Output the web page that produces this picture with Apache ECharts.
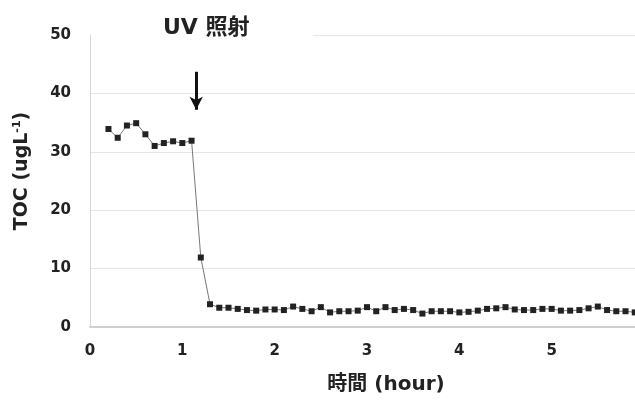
<!DOCTYPE html>
<html>
<head>
<meta charset="utf-8">
<script src="https://cdn.jsdelivr.net/npm/echarts@6/dist/echarts.min.js"></script>
<style>
html,body{margin:0;padding:0;background:#fff;}
#c{width:635px;height:407px;}
</style>
</head>
<body>
<div id="c"></div>
<script>
const hours = [0.2,0.3,0.4,0.5,0.6,0.7,0.8,0.9,1.0,1.1,1.2,1.3,1.4,1.5,1.6,1.7,1.8,1.9,2.0,2.1,2.2,2.3,2.4,2.5,2.6,2.7,2.8,2.9,3.0,3.1,3.2,3.3,3.4,3.5,3.6,3.7,3.8,3.9,4.0,4.1,4.2,4.3,4.4,4.5,4.6,4.7,4.8,4.9,5.0,5.1,5.2,5.3,5.4,5.5,5.6,5.7,5.8,5.9];
const toc = [33.9,32.4,34.5,34.9,33.0,31.0,31.5,31.8,31.5,31.9,11.9,3.9,3.3,3.3,3.1,2.9,2.8,3.0,3.0,2.9,3.5,3.1,2.7,3.4,2.5,2.7,2.7,2.8,3.4,2.7,3.4,2.9,3.1,2.9,2.3,2.7,2.7,2.7,2.5,2.6,2.8,3.1,3.2,3.4,3.0,2.9,2.9,3.1,3.1,2.8,2.8,2.9,3.2,3.5,2.9,2.7,2.7,2.5];
const xTicks = [0,1,2,3,4,5,6];
const yTicks = [0,10,20,30,40,50];
const uvLabel = 'UV 照射';
const xName = '時間 (hour)';
const yName = 'TOC (ugL{sup|-1})';
const uvTime = 1.15;
const arrowFrom = 43.7;
const arrowTo = 37.2;

const chart = echarts.init(document.getElementById('c'));
const fam = '"DejaVu Sans", "Noto Sans CJK JP", sans-serif';
chart.setOption({
  animation: false,
  backgroundColor: '#fff',
  grid: {left: 90, right: -9, top: 35, bottom: 80, outerBoundsMode: 'none', containLabel: false},
  xAxis: {
    type: 'value', min: xTicks[0], max: xTicks[xTicks.length-1], interval: 1,
    axisLine: {show: true, lineStyle: {color: '#cfcfcf', width: 2}},
    axisTick: {show: false},
    splitLine: {show: false},
    axisLabel: {color: '#222', fontWeight: 'bold', fontSize: 15, fontFamily: fam, margin: 17, showMaxLabel: false}
  },
  yAxis: {
    type: 'value', min: yTicks[0], max: yTicks[yTicks.length-1], interval: 10,
    axisLine: {show: true, lineStyle: {color: '#d6d6d6', width: 1}},
    axisTick: {show: false},
    splitLine: {show: true, lineStyle: {color: '#e6e6e6', width: 1}},
    axisLabel: {color: '#222', fontWeight: 'bold', fontSize: 15, fontFamily: fam, margin: 19}
  },
  graphic: [
    {type: 'rect', shape: {x: 91, y: 32, width: 222, height: 6}, style: {fill: '#fff'}, z: 5},
    {type: 'text', x: 163, y: 28, z: 10,
     style: {text: uvLabel, fill: '#222', font: 'bold 22px ' + fam, textVerticalAlign: 'middle'}},
    {type: 'text', x: 386, y: 385, z: 10,
     style: {text: xName, fill: '#222', font: 'bold 20px ' + fam, textAlign: 'center', textVerticalAlign: 'middle'}},
    {type: 'text', x: 22, y: 171, rotation: Math.PI / 2, z: 10,
     style: {text: yName, fill: '#222', font: 'bold 19px ' + fam, textAlign: 'center', textVerticalAlign: 'middle',
       rich: {sup: {fontSize: 11, fontWeight: 'bold', fontFamily: fam, fill: '#222', padding: [0, 0, 9, 0]}}}}
  ],
  series: [{
    type: 'line',
    data: hours.map((h, i) => [h, toc[i]]),
    symbol: 'rect', symbolSize: 6,
    itemStyle: {color: '#222'},
    lineStyle: {color: '#777', width: 1},
    clip: true,
    markLine: {
      silent: true,
      symbolSize: [10, 13],
      lineStyle: {color: '#111', width: 3, type: 'solid'},
      label: {show: false},
      data: [[
        {coord: [uvTime, arrowFrom], symbol: 'none'},
        {coord: [uvTime, arrowTo], symbol: 'arrow'}
      ]]
    }
  }]
});
</script>
</body>
</html>
